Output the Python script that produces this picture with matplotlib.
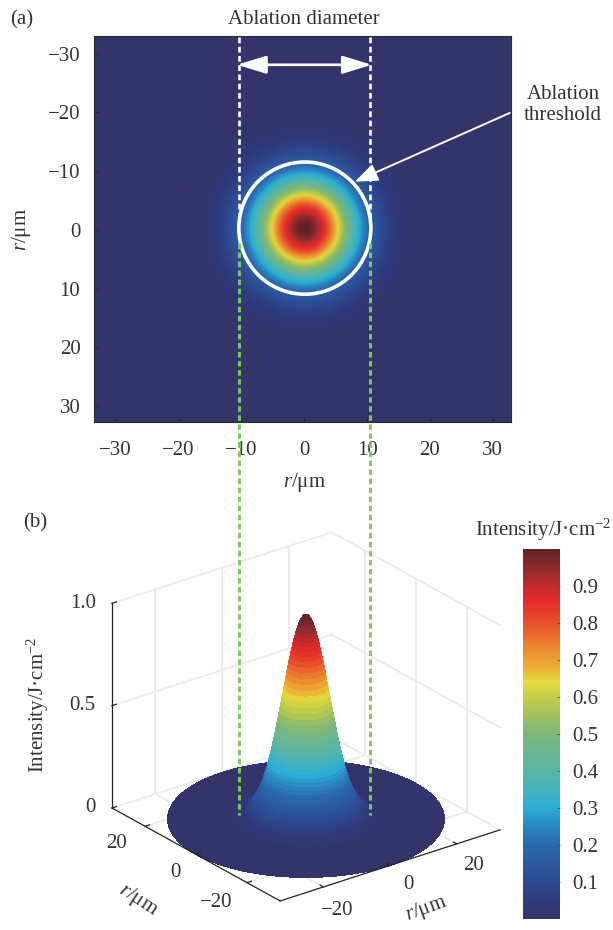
import numpy as np
import matplotlib
matplotlib.use("Agg")
import matplotlib.pyplot as plt
from matplotlib.colors import LinearSegmentedColormap, Normalize
from matplotlib.cm import ScalarMappable
from matplotlib.lines import Line2D
from matplotlib.patches import Ellipse, FancyArrowPatch
from matplotlib.transforms import blended_transform_factory
from mpl_toolkits.mplot3d import proj3d

plt.rcParams['font.family'] = ['Liberation Serif', 'DejaVu Sans']
plt.rcParams['mathtext.fontset'] = 'custom'
plt.rcParams['mathtext.rm'] = 'Liberation Serif'
plt.rcParams['mathtext.it'] = 'Liberation Serif:italic'
plt.rcParams['text.color'] = '#333333'

W, H = 613, 930
INK = '#333333'
FS = 15

radius = [0, 0.25, 0.5, 0.75, 1, 1.25, 1.5, 1.75, 2, 2.25, 2.5, 2.75, 3, 3.25, 3.5, 3.75,
          4, 4.25, 4.5, 4.75, 5, 5.25, 5.5, 5.75, 6, 6.25, 6.5, 6.75, 7, 7.25, 7.5, 7.75,
          8, 8.25, 8.5, 8.75, 9, 9.25, 9.5, 9.75, 10, 10.25, 10.5, 10.75, 11, 11.5, 12, 12.5,
          13, 13.5, 14, 14.5, 15, 16, 17, 18, 19, 20, 22, 33]
intensity = [1.000, 0.999, 0.996, 0.991, 0.984, 0.975, 0.965, 0.953, 0.938, 0.923, 0.906, 0.887,
             0.867, 0.846, 0.823, 0.800, 0.776, 0.751, 0.725, 0.699, 0.672, 0.646, 0.619, 0.592,
             0.565, 0.538, 0.511, 0.485, 0.459, 0.434, 0.409, 0.385, 0.362, 0.340, 0.318, 0.297,
             0.276, 0.257, 0.239, 0.221, 0.205, 0.190, 0.176, 0.163, 0.150, 0.129, 0.111, 0.095,
             0.080, 0.067, 0.055, 0.044, 0.035, 0.022, 0.014, 0.008, 0.004, 0.002, 0.0, 0.0]

map_ticks = [-30, -20, -10, 0, 10, 20, 30]
floor_ticks = [-20, 0, 20]
z_ticks = [0, 0.5, 1.0]
z_tick_labels = ['0', '0.5', '1.0']
cbar_ticks = [0.1, 0.2, 0.3, 0.4, 0.5, 0.6, 0.7, 0.8, 0.9]
threshold_left = -10.3
threshold_right = 10.45

cmap_stops = [(0.0, '#33346a'), (0.05, '#2e3a7e'), (0.1, '#2c4a92'), (0.2, '#2a69ad'), (0.25, '#2a86c2'),
              (0.3, '#2aaed5'), (0.35, '#45b4be'), (0.4, '#5ab5a6'), (0.5, '#7db87a'), (0.55, '#a0c05c'),
              (0.6, '#c4cf48'), (0.64, '#e3da3e'), (0.68, '#eeb034'), (0.75, '#ea7a2e'), (0.8, '#e8502c'),
              (0.86, '#e52a2c'), (0.9, '#c52a2c'), (0.95, '#8e2a2c'), (1.0, '#5e2326')]
beam_cmap = LinearSegmentedColormap.from_list('beam', cmap_stops, N=512)
norm = Normalize(0, 1)


def px(x, y):
    return x / W, 1 - y / H


def box(left, top, right, bottom):
    return [left / W, 1 - bottom / H, (right - left) / W, (bottom - top) / H]


theta = np.linspace(0, 2 * np.pi, 181)
R, T = np.meshgrid(np.array(radius), theta, indexing='ij')
Z = np.repeat(np.array(intensity)[:, None], len(theta), axis=1)

fig = plt.figure(figsize=(W / 100, H / 100), dpi=100)

# (a) map
ax = fig.add_axes(box(94.3, 36, 511, 422))
ax.set_facecolor(beam_cmap(0.0))
# the spot is round on the page although the two axes scales differ a little
ax.pcolormesh(R * np.cos(T) + 0.1, 1.07 * R * np.sin(T) - 0.3, Z, cmap=beam_cmap, norm=norm,
              shading='gouraud', rasterized=True)
ax.set_xlim(-33.4, 32.9)
ax.set_ylim(32.7, -33.0)
ax.set_xticks(map_ticks)
ax.set_yticks(map_ticks)
ax.tick_params(direction='in', length=3, width=0.6, color='#222222', labelsize=FS, labelcolor=INK)
ax.tick_params(axis='x', pad=14)
ax.tick_params(axis='y', pad=10)
for s in ax.spines.values():
    s.set_color('#2a2a2a')
    s.set_linewidth(0.8)

ax.add_patch(Ellipse((0.1, -0.3), 2 * 10.5, 2 * 11.25, fill=False, ec='white', lw=2.6, zorder=5))
ax.add_patch(FancyArrowPatch((threshold_left - 0.4, -28.1), (threshold_right + 0.3, -28.1),
                             arrowstyle='<|-|>,head_length=18,head_width=5.5', mutation_scale=1,
                             color='white', lw=1.9, shrinkA=0, shrinkB=0, zorder=6))
ax.add_patch(FancyArrowPatch((32.7, -19.9), (8.06, -8.2),
                             arrowstyle='-|>,head_length=14,head_width=5.5', mutation_scale=1,
                             color='white', lw=1.4, shrinkA=0, shrinkB=0, zorder=6))

# (b) surface, no built-in 3D axes so the walls and ticks can sit as printed
S = 560
ax3 = fig.add_axes([20 / W, 1 - 950 / H, S / W, S / H], projection='3d', proj_type='ortho', computed_zorder=False)
ax3.patch.set_alpha(0)
ax3.view_init(elev=25, azim=-127.4)
ax3.set_xlim(-33, 33, view_margin=0)
ax3.set_ylim(-33, 33, view_margin=0)
ax3.set_zlim(0, 1, view_margin=0)
ax3.set_box_aspect((1, 1, 226 / 277))
ax3.set_axis_off()

GRID = dict(color='#ebebeb', lw=1.3, zorder=1)
for t in floor_ticks:
    ax3.plot([-33, 33], [t, t], [0, 0], **GRID)
    ax3.plot([t, t], [-33, 33], [0, 0], **GRID)
    ax3.plot([33, 33], [t, t], [0, 1], **GRID)
    ax3.plot([t, t], [33, 33], [0, 1], **GRID)
for z in z_ticks:
    ax3.plot([33, 33], [-33, 33], [z, z], **GRID)
    ax3.plot([-33, 33], [33, 33], [z, z], **GRID)

colors = beam_cmap(norm(Z))
ax3.plot_surface(R * np.cos(T), R * np.sin(T), Z, facecolors=colors, rstride=1, cstride=1,
                 shade=False, linewidth=0, antialiased=False, zorder=2)

AXIS = dict(color='#222222', lw=0.9, zorder=3, clip_on=False)
ax3.plot([-33, -33], [33, 33], [0, 1], **AXIS)
ax3.plot([-33, -33], [-33, 33], [0, 0], **AXIS)
ax3.plot([-33, 33], [-33, -33], [0, 0], **AXIS)
for t in floor_ticks:
    ax3.plot([-33, -31.7], [t, t], [0, 0], **AXIS)
    ax3.plot([t, t], [-33, -31.7], [0, 0], **AXIS)
for z in z_ticks:
    ax3.plot([-33, -31.7], [33, 33], [z, z], **AXIS)


def corner_px(x, y, z):
    xs, ys, _ = proj3d.proj_transform(x, y, z, ax3.get_proj())
    return ax3.transData.transform((xs, ys))


# scale and shift the square axes so the floor corners land where they are printed
fig.canvas.draw()
p, q = corner_px(-33, 33, 0), corner_px(33, -33, 0)
S *= (500 - 112) / (q[0] - p[0])
ax3.set_position([20 / W, 1 - 950 / H, S / W, S / H])
fig.canvas.draw()
p = corner_px(-33, 33, 0)
pos = ax3.get_position()
ax3.set_position([pos.x0 + (112 - p[0]) / W, pos.y0 + (H - 808 - p[1]) / H, S / W, S / H])

# colour bar
cax = fig.add_axes(box(523.3, 549, 559.5, 919))
cb = fig.colorbar(ScalarMappable(norm=norm, cmap=beam_cmap), cax=cax, ticks=cbar_ticks)
cb.outline.set_visible(False)
cb.ax.tick_params(direction='in', length=2, width=0.5, color='#444444', labelsize=FS, labelcolor=INK, pad=9)

# dashed guides run across both panels
guide_tf = blended_transform_factory(ax.transData, fig.transFigure)
for xg in (threshold_left, threshold_right):
    fig.add_artist(Line2D([xg, xg], [px(0, 37)[1], px(0, 222)[1]], transform=guide_tf, color='white',
                          lw=1.9, ls=(0, (2.2, 1.3)), zorder=4))
    fig.add_artist(Line2D([xg, xg], [px(0, 243)[1], px(0, 815)[1]], transform=guide_tf, color='#7ecb55',
                          lw=2.1, ls=(0, (1.9, 1.2)), zorder=4))

# text
def label(x, y, s, **kw):
    fig.text(*px(x, y), s, fontsize=kw.pop('fontsize', FS), ha='center', va='center', **kw)


label(22, 20, '(a)')
label(35, 523, '(b)')
label(304, 19, 'Ablation diameter')
label(563, 105, 'Ablation\nthreshold', linespacing=1.2)
label(304, 482, r'$r$/μm')
label(22, 230, r'$r$/μm', rotation=90)
label(543, 530, r'Intensity/J·cm$^{-2}$')
label(38, 705, r'Intensity/J·cm$^{-2}$', rotation=90)
label(138, 900, r'$r$/μm', rotation=-33)
label(426, 909, r'$r$/μm', rotation=20)
for lab, (x, y) in zip(z_tick_labels, [(90, 807), (82, 705), (83, 603)]):
    label(x, y, lab)
for t, (x, y) in zip(floor_ticks, [(216, 902), (175, 872), (117, 843)]):
    label(x, y, str(t).replace('-', '\u2212'))
for t, (x, y) in zip(floor_ticks, [(337, 910), (408, 884), (473, 865)]):
    label(x, y, str(t).replace('-', '\u2212'))

fig.savefig('out.png', dpi=100)
